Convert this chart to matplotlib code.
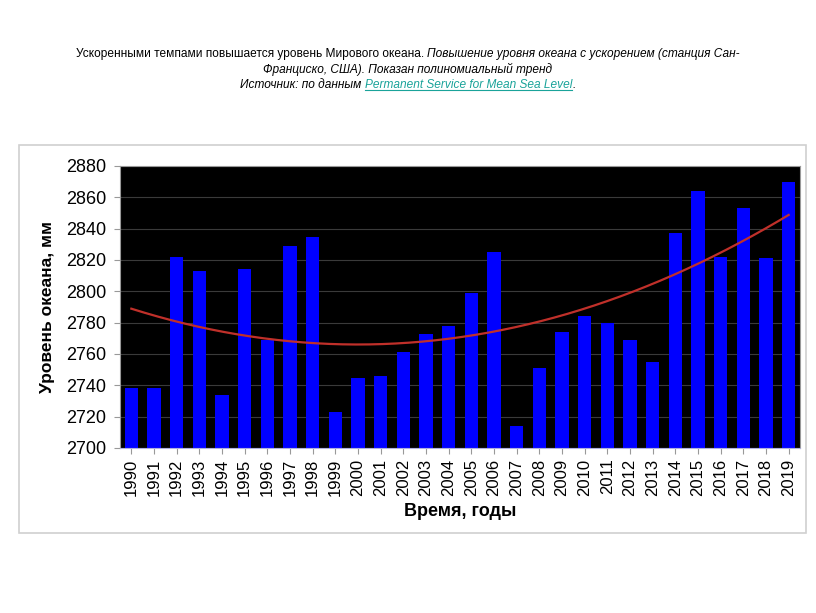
import numpy as np
import matplotlib
matplotlib.use('Agg')
import matplotlib.pyplot as plt
from matplotlib.patches import Rectangle
from matplotlib.lines import Line2D

years = [str(y) for y in range(1990, 2020)]
levels = [2738, 2738, 2822, 2813, 2734, 2814, 2769, 2829, 2835, 2723,
          2745, 2746, 2761, 2773, 2778, 2799, 2825, 2714, 2751, 2774,
          2784, 2780, 2769, 2755, 2837, 2864, 2822, 2853, 2821, 2870]
yticks = list(range(2700, 2881, 20))

plt.rcParams['font.family'] = ['Liberation Sans', 'DejaVu Sans']
W, H = 816, 613
fig = plt.figure(figsize=(W / 100, H / 100), dpi=100)

# outer frame around the chart
fig.patches.append(Rectangle((19 / W, 1 - 533 / H), 787 / W, 388 / H, fill=False,
                             edgecolor='#d0d0d0', lw=1.2, transform=fig.transFigure))

ax = fig.add_axes([120 / W, 1 - 448 / H, 680 / W, 282 / H])
ax.set_facecolor('black')
x = np.arange(len(years))
ax.bar(x, levels, width=0.58, color='#0000ff', zorder=2)

# polynomial (2nd order) trend as in the source
coef = np.polyfit(x, levels, 2)
xs = np.linspace(0, len(years) - 1, 200)
ax.plot(xs, np.polyval(coef, xs), color='#c0302a', lw=1.6, zorder=3)

ax.set_xlim(-0.5, len(years) - 0.5)
ax.set_ylim(2700, 2880)
ax.set_yticks(yticks)
ax.set_yticklabels([str(v) for v in yticks], fontsize=13)
ax.set_xticks(x)
ax.set_xticklabels(years, rotation=90, fontsize=12)
ax.grid(axis='y', color='#3a3a3a', lw=0.8, zorder=0)
ax.set_axisbelow(True)
ax.tick_params(colors='#999999', labelcolor='black', length=4)
ax.tick_params(axis='y', pad=6)
for s in ax.spines.values():
    s.set_color('#999999')
ax.spines['bottom'].set_color('#b0b0e0')
ax.set_ylabel('Уровень океана, мм', fontsize=12.5, fontweight='bold', labelpad=8)
ax.set_xlabel('Время, годы', fontsize=13, fontweight='bold', labelpad=5)

# caption lines with mixed styles
renderer = fig.canvas.get_renderer()


def caption(ypix, parts):
    texts = []
    total = 0
    for s, style, color in parts:
        t = fig.text(0, 1 - ypix / H, s, fontsize=8.6, style=style, color=color,
                     va='baseline', ha='left')
        w = t.get_window_extent(renderer).width
        texts.append((t, w, color == '#1aa39a'))
        total += w
    xpos = (W - total) / 2
    for t, w, link in texts:
        t.set_x(xpos / W)
        if link:
            fig.lines.append(Line2D([xpos / W, (xpos + w) / W],
                                    [1 - (ypix + 2) / H] * 2, color=t.get_color(),
                                    lw=0.8, transform=fig.transFigure))
        xpos += w


caption(57, [('Ускоренными темпами повышается уровень Мирового океана. ', 'normal', 'black'),
             ('Повышение уровня океана с ускорением (станция Сан-', 'italic', 'black')])
caption(73, [('Франциско, США). Показан полиномиальный тренд', 'italic', 'black')])
caption(88, [('Источник: по данным ', 'italic', 'black'),
             ('Permanent Service for Mean Sea Level', 'italic', '#1aa39a'),
             ('.', 'italic', 'black')])

fig.savefig('out.png', dpi=100)
